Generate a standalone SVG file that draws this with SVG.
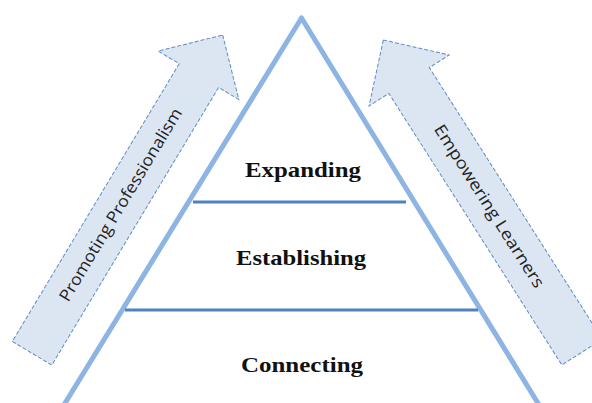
<svg xmlns="http://www.w3.org/2000/svg" width="592" height="403" viewBox="0 0 592 403">
  <style>
    .arrow { fill: #DCE6F2; stroke: #5F8BC4; stroke-width: 1; stroke-dasharray: 4 2; stroke-linejoin: miter; }
    .arrow-label { font-family: "Open Sans", "Liberation Sans", sans-serif; font-size: 16.5px; fill: #222222; text-anchor: middle; }
    .side { fill: none; stroke: #8DB4E2; stroke-width: 5; stroke-linejoin: round; stroke-linecap: butt; }
    .tier { stroke: #4F81BD; stroke-width: 3; }
    .tier-label { font-family: "Liberation Serif", "Times New Roman", serif; font-weight: bold; font-size: 21px; fill: #111111; text-anchor: middle; }
  </style>

  <rect width="592" height="403" fill="#ffffff"/>

  <!-- left arrow, pointing up-right -->
  <g id="promoting-professionalism" transform="translate(222.7,35) rotate(31)">
    <polygon class="arrow" points="0,0 47,47 23.5,47 23.5,371 -22.5,371 -22.5,47 -47,47"/>
    <text class="arrow-label" x="0" y="198" dy="5.5" transform="rotate(-90 0 198)" textLength="222" lengthAdjust="spacingAndGlyphs">Promoting Professionalism</text>
  </g>

  <!-- right arrow, pointing up-left -->
  <g id="empowering-learners" transform="translate(383.3,40) rotate(-32.5)">
    <polygon class="arrow" points="0,0 47.5,48 24,48 24,370 -24,370 -24,48 -47.5,48"/>
    <text class="arrow-label" x="0" y="197" dy="5.5" transform="rotate(90 0 197)" textLength="190" lengthAdjust="spacingAndGlyphs">Empowering Learners</text>
  </g>

  <!-- pyramid outline and tier dividers -->
  <g id="connectors">
    <polyline class="side" points="59,413 301.5,18 544,413"/>
    <line class="tier" x1="193" y1="202" x2="406" y2="202"/>
    <line class="tier" x1="125" y1="310" x2="478" y2="310"/>
  </g>

  <g id="expanding">
    <text class="tier-label" x="303" y="177" textLength="116" lengthAdjust="spacingAndGlyphs">Expanding</text>
  </g>
  <g id="establishing">
    <text class="tier-label" x="301" y="265" textLength="130" lengthAdjust="spacingAndGlyphs">Establishing</text>
  </g>
  <g id="connecting">
    <text class="tier-label" x="302" y="372" textLength="122" lengthAdjust="spacingAndGlyphs">Connecting</text>
  </g>
</svg>
